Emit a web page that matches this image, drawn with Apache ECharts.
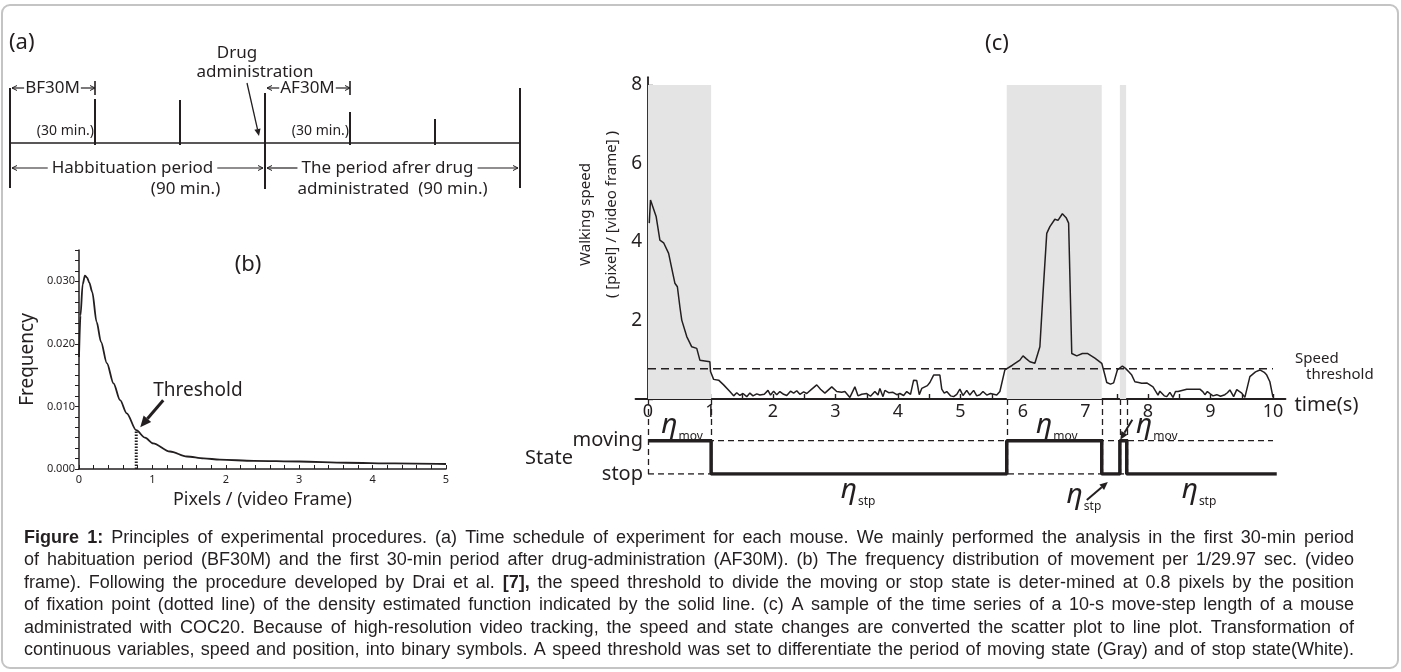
<!DOCTYPE html>
<html>
<head>
<meta charset="utf-8">
<script src="https://cdn.jsdelivr.net/npm/echarts@6/dist/echarts.min.js"></script>
<style>
html, body { margin: 0; padding: 0; background: #fff; }
#chart { width: 1401px; height: 672px; }
</style>
</head>
<body>
<div id="chart"></div>
<script>
// (a) time schedule, in minutes
const scheduleTicks = [0, 30, 60, 90, 120, 150, 180];
const drugTime = 90;
const windowSpans = [[0, 30], [90, 120]];
const windowLabels = ['BF30M', 'AF30M'];
const windowSubLabels = ['(30 min.)', '(30 min.)'];
const phaseSpans = [[0, 90], [90, 180]];
const phaseLabels = ['Habbituation period', 'The period afrer drug'];
const phaseSubLabels = ['(90 min.)', 'administrated  (90 min.)'];

// (b) frequency distribution
const pixelValues = [0, 0.02, 0.05, 0.08, 0.11, 0.14, 0.18, 0.24, 0.30, 0.38,
  0.47, 0.56, 0.65, 0.78, 0.90, 1.01, 1.24, 1.47, 1.70, 1.92,
  2.38, 3.00, 3.64, 4.30, 5.00];
const frequencyValues = [0.0179, 0.0245, 0.0295, 0.0309, 0.0306, 0.0298, 0.0283, 0.0235, 0.0203, 0.0169,
  0.0137, 0.0110, 0.0089, 0.0062, 0.0050, 0.0041, 0.0028, 0.0020, 0.0017, 0.0015,
  0.0013, 0.0012, 0.0010, 0.0009, 0.0008];
const thresholdPixel = 0.78;
const thresholdFrequency = 0.0062;
const pixelTicks = [0, 1, 2, 3, 4, 5];
const frequencyTicks = [0, 0.01, 0.02, 0.03];

// (c) walking speed of one mouse over 10 s
const speedTime = [0.02, 0.04, 0.07, 0.13, 0.19, 0.25, 0.33, 0.38, 0.43, 0.47,
  0.51, 0.54, 0.62, 0.70, 0.78, 0.83, 0.91, 0.99, 1.00, 1.05,
  1.13, 1.21, 1.31, 1.37, 1.42, 1.47, 1.52, 1.58, 1.63, 1.68,
  1.74, 1.79, 1.86, 1.92, 1.96, 2.01, 2.06, 2.11, 2.17, 2.22,
  2.28, 2.33, 2.38, 2.43, 2.49, 2.54, 2.62, 2.70, 2.76, 2.83,
  2.94, 3.02, 3.10, 3.15, 3.23, 3.31, 3.36, 3.42, 3.50, 3.56,
  3.63, 3.68, 3.71, 3.76, 3.79, 3.85, 3.92, 3.98, 4.03, 4.09,
  4.14, 4.20, 4.25, 4.30, 4.34, 4.38, 4.41, 4.47, 4.51, 4.57,
  4.67, 4.70, 4.74, 4.78, 4.84, 4.89, 4.94, 4.99, 5.04, 5.10,
  5.15, 5.21, 5.26, 5.31, 5.36, 5.42, 5.48, 5.53, 5.58, 5.63,
  5.71, 5.83, 5.95, 6.00, 6.05, 6.11, 6.19, 6.27, 6.32, 6.38,
  6.43, 6.51, 6.56, 6.59, 6.63, 6.65, 6.69, 6.73, 6.78, 6.86,
  6.95, 7.03, 7.15, 7.26, 7.31, 7.34, 7.40, 7.45, 7.51, 7.59,
  7.64, 7.70, 7.74, 7.79, 7.85, 7.90, 7.98, 8.08, 8.16, 8.19,
  8.22, 8.26, 8.30, 8.35, 8.40, 8.44, 8.48, 8.62, 8.83, 8.88,
  8.91, 8.95, 8.99, 9.04, 9.10, 9.16, 9.23, 9.27, 9.31, 9.37,
  9.42, 9.45, 9.50, 9.55, 9.63, 9.72, 9.79, 9.86, 9.90, 9.95,
  10.00];
const speedValue = [4.48, 5.07, 5.03, 4.65, 4.05, 3.98, 3.71, 3.33, 2.95, 2.86,
  2.35, 2.01, 1.59, 1.33, 1.29, 0.99, 0.97, 0.95, 0.70, 0.50,
  0.48, 0.36, 0.19, 0.08, 0.16, 0.09, 0.14, 0.06, 0.15, 0.08,
  0.13, 0.10, 0.12, 0.22, 0.10, 0.20, 0.11, 0.19, 0.12, 0.09,
  0.20, 0.15, 0.21, 0.12, 0.18, 0.14, 0.25, 0.36, 0.25, 0.15,
  0.31, 0.19, 0.17, 0.19, 0.04, 0.31, 0.08, 0.12, 0.14, 0.07,
  0.19, 0.10, 0.27, 0.06, 0.22, 0.16, 0.17, 0.11, 0.14, 0.09,
  0.19, 0.12, 0.48, 0.47, 0.11, 0.27, 0.22, 0.34, 0.42, 0.61,
  0.61, 0.25, 0.15, 0.19, 0.08, 0.06, 0.12, 0.25, 0.09, 0.22,
  0.10, 0.22, 0.08, 0.11, 0.19, 0.10, 0.14, 0.12, 0.10, 0.19,
  0.74, 0.86, 0.99, 1.10, 1.03, 0.95, 0.91, 1.33, 2.69, 4.22,
  4.39, 4.58, 4.55, 4.56, 4.72, 4.73, 4.62, 4.48, 1.16, 1.10,
  1.16, 1.16, 1.04, 0.91, 0.61, 0.42, 0.38, 0.41, 0.74, 0.84,
  0.78, 0.68, 0.61, 0.44, 0.42, 0.40, 0.41, 0.31, 0.10, 0.20,
  0.23, 0.08, 0.06, 0.17, 0.04, 0.19, 0.19, 0.25, 0.25, 0.18,
  0.11, 0.19, 0.14, 0.08, 0.11, 0.07, 0.11, 0.16, 0.23, 0.06,
  0.24, 0.23, 0.15, 0.04, 0.57, 0.69, 0.74, 0.68, 0.61, 0.44,
  0.04];
const speedThreshold = 0.77;
const timeTicks = [0, 1, 2, 3, 4, 5, 6, 7, 8, 9, 10];
const speedTicks = [2, 4, 6, 8];
const movingSpans = [[0, 1.01], [5.74, 7.26], [7.55, 7.65]];
const stateTime = [0, 1.01, 5.74, 7.26, 7.55, 7.66, 10.06];
const stateValue = [1, 0, 1, 0, 1, 0, 0];
const stateLabels = ['stop', 'moving'];

const captionLines = [
  'Figure 1: Principles of experimental procedures. (a) Time schedule of experiment for each mouse. We mainly performed the analysis in the first 30-min period',
  'of habituation period (BF30M) and the first 30-min period after drug-administration (AF30M). (b) The frequency distribution of movement per 1/29.97 sec. (video',
  'frame). Following the procedure developed by Drai et al. [7], the speed threshold to divide the moving or stop state is deter-mined at 0.8 pixels by the position',
  'of fixation point (dotted line) of the density estimated function indicated by the solid line. (c) A sample of the time series of a 10-s move-step length of a mouse',
  'administrated with COC20. Because of high-resolution video tracking, the speed and state changes are converted the scatter plot to line plot. Transformation of',
  'continuous variables, speed and position, into binary symbols. A speed threshold was set to differentiate the period of moving state (Gray) and of stop state(White).'
];

const INK = '#231f20';
const SANS = "'Noto Sans', sans-serif";
const CAPFONT = "'Liberation Sans', Arial, sans-serif";

// layout of the schedule drawing (pixel rows)
const A = {
  tickTop: [88, 99, 100, 93, 112, 119, 88],
  tickBottom: [188, 145, 145, 189, 145, 145, 188],
  baseY: 143,
  windowY: 88,
  windowSubY: 131,
  phaseY: 168,
  phaseSubY: 189,
  phaseDx: [-5, -5],
  phaseSubAlign: ['right', 'center']
};

const measureCtx = document.createElement('canvas').getContext('2d');
function textWidth(s, font) {
  measureCtx.font = font;
  return measureCtx.measureText(s).width;
}
function steps(from, to, n) {
  const out = [];
  for (let i = 0; i <= n; i++) out.push(from + (to - from) * i / n);
  return out;
}
function txt(text, x, y, font, align, extra) {
  return Object.assign({
    type: 'text', x: x, y: y, silent: true,
    style: { text: text, font: font, fill: INK, align: align || 'left', verticalAlign: 'middle' }
  }, extra || {});
}
function arrow(from, to, width, head) {
  const dx = to[0] - from[0], dy = to[1] - from[1];
  const len = Math.hypot(dx, dy);
  const ux = dx / len, uy = dy / len;
  const bx = to[0] - ux * head, by = to[1] - uy * head;
  const hw = head * 0.45;
  return [
    { type: 'line', silent: true, shape: { x1: from[0], y1: from[1], x2: bx, y2: by }, style: { stroke: INK, lineWidth: width } },
    { type: 'polygon', silent: true, shape: { points: [[to[0], to[1]], [bx - uy * hw, by + ux * hw], [bx + uy * hw, by - ux * hw]] }, style: { fill: INK } }
  ];
}
function chevron(x, y, dir, size) {
  return {
    type: 'polyline',
    shape: { points: [[x - dir * size, y - size * 0.5], [x, y], [x - dir * size, y + size * 0.5]] },
    style: { stroke: INK, fill: null, lineWidth: 1 }
  };
}
function hline(x1, x2, y, w) {
  return { type: 'line', shape: { x1: x1, y1: y, x2: x2, y2: y }, style: { stroke: INK, lineWidth: w || 1.2 } };
}

// (a) renderers
function renderTick(params, api) {
  const i = params.dataIndex;
  const x = api.coord([api.value(0), 0])[0];
  return { type: 'line', shape: { x1: x, y1: A.tickTop[i], x2: x, y2: A.tickBottom[i] }, style: { stroke: INK, lineWidth: 2 } };
}
function renderBaseline(params, api) {
  const x1 = api.coord([api.value(0), 0])[0];
  const x2 = api.coord([api.value(2), 0])[0];
  return hline(x1, x2, A.baseY, 1.6);
}
function renderWindow(params, api) {
  const i = api.value(3);
  const x1 = api.coord([api.value(0), 0])[0];
  const x2 = api.coord([api.value(2), 0])[0];
  const font = '17px ' + SANS;
  const w = textWidth(windowLabels[i], font);
  const cx = (x1 + x2) / 2;
  const y = A.windowY;
  return {
    type: 'group',
    children: [
      hline(x1 + 2, cx - w / 2 - 1, y),
      chevron(x1 + 2, y, -1, 5),
      hline(cx + w / 2 + 1, x2, y),
      chevron(x2, y, 1, 5),
      { type: 'line', shape: { x1: x2, y1: y - 7, x2: x2, y2: y + 7 }, style: { stroke: INK, lineWidth: 1.6 } },
      { type: 'text', style: { text: windowLabels[i], x: cx, y: y, font: font, fill: INK, align: 'center', verticalAlign: 'middle' } },
      { type: 'text', style: { text: windowSubLabels[i], x: x2 - 1, y: A.windowSubY, font: '14px ' + SANS, fill: INK, align: 'right', verticalAlign: 'middle' } }
    ]
  };
}
function renderPhase(params, api) {
  const i = api.value(3);
  const x1 = api.coord([api.value(0), 0])[0];
  const x2 = api.coord([api.value(2), 0])[0];
  const font = '17px ' + SANS;
  const w = textWidth(phaseLabels[i], font);
  const cx = (x1 + x2) / 2 + A.phaseDx[i];
  const y = A.phaseY;
  const subAlign = A.phaseSubAlign[i];
  const subX = subAlign === 'right' ? cx + w / 2 + 7 : cx + 5;
  return {
    type: 'group',
    children: [
      hline(x1 + 2, cx - w / 2 - 4, y),
      chevron(x1 + 2, y, -1, 5),
      hline(cx + w / 2 + 4, x2 - 2, y),
      chevron(x2 - 2, y, 1, 5),
      { type: 'text', style: { text: phaseLabels[i], x: cx, y: y, font: font, fill: INK, align: 'center', verticalAlign: 'middle' } },
      { type: 'text', style: { text: phaseSubLabels[i], x: subX, y: A.phaseSubY, font: font, fill: INK, align: subAlign, verticalAlign: 'middle' } }
    ]
  };
}
function renderDrug(params, api) {
  const x = api.coord([api.value(0), 0])[0];
  const font = '17px ' + SANS;
  return {
    type: 'group',
    children: [
      { type: 'text', style: { text: 'Drug', x: x - 28, y: 53, font: font, fill: INK, align: 'center', verticalAlign: 'middle' } },
      { type: 'text', style: { text: 'administration', x: x - 10, y: 72, font: font, fill: INK, align: 'center', verticalAlign: 'middle' } }
    ].concat(arrow([x - 18, 83], [x - 6, 136], 1.3, 7))
  };
}

const timeHalfSteps = steps(0, 10, 20);
const speedHalfSteps = steps(0, 8, 16);
// the time axis runs a little past 0 and 10; the value axes sit on t = 0
const axisShift = -12.5;

const option = {
  animation: false,
  backgroundColor: '#fff',
  textStyle: { fontFamily: 'Noto Sans', color: INK },
  grid: [
    { left: 10, width: 510, top: 80, height: 120 },
    { left: 79, width: 367, top: 250, height: 219 },
    { left: 635.5, width: 650, top: 77.15, height: 321.85 },
    { left: 635.5, width: 650, top: 399, height: 75 }
  ],
  xAxis: [
    { gridIndex: 0, type: 'value', min: 0, max: 180, show: false },
    {
      gridIndex: 1, type: 'value', min: 0, max: 5,
      axisLine: { lineStyle: { color: INK, width: 1.5 } },
      axisTick: { inside: true, length: 4, customValues: steps(0, 5, 25), lineStyle: { color: INK } },
      axisLabel: { customValues: pixelTicks, fontSize: 11, color: INK, margin: 5 },
      splitLine: { show: false },
      name: 'Pixels / (video Frame)', nameLocation: 'middle', nameGap: 22,
      nameTextStyle: { fontSize: 18, color: INK }
    },
    {
      gridIndex: 2, type: 'value', min: -0.2, max: 10.2,
      axisLine: { onZero: false, lineStyle: { color: INK, width: 1.8 } },
      axisTick: { inside: true, length: 5, customValues: timeHalfSteps, lineStyle: { color: INK, width: 1.4 } },
      axisLabel: { customValues: timeTicks, fontSize: 18, color: INK, margin: 4 },
      splitLine: { show: false }
    },
    { gridIndex: 3, type: 'value', min: -0.2, max: 10.2, show: false }
  ],
  yAxis: [
    { gridIndex: 0, type: 'value', min: 0, max: 1, show: false },
    {
      gridIndex: 1, type: 'value', min: 0, max: 0.035,
      axisLine: { show: true, lineStyle: { color: INK, width: 1.5 } },
      axisTick: { show: true, length: 4, customValues: steps(0, 0.035, 21), lineStyle: { color: INK } },
      axisLabel: { customValues: frequencyTicks, formatter: v => v.toFixed(3), fontSize: 11, color: INK, margin: 4 },
      splitLine: { show: false },
      name: 'Frequency', nameLocation: 'middle', nameRotate: 90, nameGap: 42,
      nameTextStyle: { fontSize: 19, color: INK }
    },
    {
      gridIndex: 2, type: 'value', min: 0, max: 8.2, offset: axisShift,
      axisLine: { show: true, onZero: false, lineStyle: { color: INK, width: 1.8 } },
      axisTick: { show: true, inside: true, length: 5, customValues: speedHalfSteps, lineStyle: { color: INK, width: 1.4 } },
      axisLabel: { customValues: speedTicks, fontSize: 19, color: INK, margin: 6 },
      splitLine: { show: false }
    },
    {
      gridIndex: 3, type: 'value', min: 0, max: 2.25, offset: axisShift,
      axisLine: { show: false, onZero: false },
      axisTick: { show: false },
      axisLabel: { customValues: [0, 1], formatter: v => stateLabels[Math.round(v)], fontSize: 20, color: INK, margin: 5 },
      splitLine: { show: false }
    }
  ],
  series: [
    // (a)
    { type: 'custom', xAxisIndex: 0, yAxisIndex: 0, silent: true, renderItem: renderBaseline,
      data: [[scheduleTicks[0], 0, scheduleTicks[scheduleTicks.length - 1]]] },
    { type: 'custom', xAxisIndex: 0, yAxisIndex: 0, silent: true, renderItem: renderTick,
      data: scheduleTicks.map(t => [t, 0]) },
    { type: 'custom', xAxisIndex: 0, yAxisIndex: 0, silent: true, renderItem: renderWindow,
      data: windowSpans.map((s, i) => [s[0], 0, s[1], i]) },
    { type: 'custom', xAxisIndex: 0, yAxisIndex: 0, silent: true, renderItem: renderPhase,
      data: phaseSpans.map((s, i) => [s[0], 0, s[1], i]) },
    { type: 'custom', xAxisIndex: 0, yAxisIndex: 0, silent: true, renderItem: renderDrug,
      data: [[drugTime, 0]] },
    // (b)
    {
      type: 'line', xAxisIndex: 1, yAxisIndex: 1, silent: true, showSymbol: false,
      smooth: 0.3, smoothMonotone: 'x',
      lineStyle: { color: INK, width: 1.8 },
      data: pixelValues.map((p, i) => [p, frequencyValues[i]])
    },
    {
      type: 'line', xAxisIndex: 1, yAxisIndex: 1, silent: true, showSymbol: false,
      lineStyle: { color: INK, width: 3, type: [1.5, 1.5] },
      data: [[thresholdPixel, 0], [thresholdPixel, thresholdFrequency]]
    },
    // (c) speed
    {
      type: 'line', xAxisIndex: 2, yAxisIndex: 2, silent: true, showSymbol: false,
      lineStyle: { color: INK, width: 1.5 },
      data: speedTime.map((t, i) => [t, speedValue[i]]),
      markArea: {
        silent: true,
        itemStyle: { color: '#e4e4e4' },
        data: movingSpans.map(s => [{ xAxis: s[0], yAxis: 0 }, { xAxis: s[1], yAxis: speedTicks[speedTicks.length - 1] }])
      },
      z: 3
    },
    {
      type: 'line', xAxisIndex: 2, yAxisIndex: 2, silent: true, showSymbol: false,
      lineStyle: { color: INK, width: 1.5, type: [8, 5] },
      data: [[timeTicks[0], speedThreshold], [timeTicks[timeTicks.length - 1], speedThreshold]]
    },
    // (c) state guides
    {
      type: 'line', xAxisIndex: 3, yAxisIndex: 3, silent: true, showSymbol: false,
      lineStyle: { color: INK, width: 1.3, type: [6, 4] },
      data: [[timeTicks[0], 1], [timeTicks[timeTicks.length - 1], 1]],
      markLine: {
        silent: true, symbol: 'none', label: { show: false },
        lineStyle: { color: INK, width: 1.3, type: [6, 4] },
        data: stateTime.slice(0, -1).map(t => [{ coord: [t, 2.25] }, { coord: [t, 0] }])
      }
    },
    {
      type: 'line', xAxisIndex: 3, yAxisIndex: 3, silent: true, showSymbol: false,
      lineStyle: { color: INK, width: 1.3, type: [6, 4] },
      data: [[timeTicks[0], 0], [timeTicks[timeTicks.length - 1], 0]]
    },
    {
      type: 'line', xAxisIndex: 3, yAxisIndex: 3, silent: true, showSymbol: false,
      step: 'end',
      lineStyle: { color: INK, width: 3.5 },
      data: stateTime.map((t, i) => [t, stateValue[i]]),
      z: 5
    }
  ]
};

const chart = echarts.init(document.getElementById('chart'), null, { renderer: 'canvas' });
chart.setOption(option);

const px = (g, p) => chart.convertToPixel({ gridIndex: g }, p);
const graphics = [];

// frame
graphics.push({
  type: 'rect', silent: true, z: -10,
  shape: { x: 2, y: 5, width: 1396, height: 663, r: 8 },
  style: { fill: null, stroke: '#c4c4c4', lineWidth: 2 }
});

// panel letters
graphics.push(txt('(a)', 9, 43, '22px ' + SANS));
graphics.push(txt('(b)', 248, 265, '22px ' + SANS, 'center'));
graphics.push(txt('(c)', 997, 44, '22px ' + SANS, 'center'));

// (b) threshold callout
const thr = px(1, [thresholdPixel, thresholdFrequency]);
arrow([thr[0] + 27, thr[1] - 30], [thr[0] + 4, thr[1] - 3], 3, 11).forEach(g => graphics.push(g));
graphics.push(txt('Threshold', thr[0] + 17, thr[1] - 40, '19px ' + SANS));

// (c) speed axis name
const origin = px(2, [0, 0]);
const nameY = px(2, [0, 4.7])[1];
graphics.push(txt('Walking speed', origin[0] - 62, nameY, '15px ' + SANS, 'center', { rotation: Math.PI / 2 }));
graphics.push(txt('( [pixel] / [video frame] )', origin[0] - 36, nameY, '15px ' + SANS, 'center', { rotation: Math.PI / 2 }));

// (c) threshold and time labels
const thrEnd = px(2, [timeTicks[timeTicks.length - 1], speedThreshold]);
graphics.push(txt('Speed', thrEnd[0] + 22, thrEnd[1] - 10, '15px ' + SANS));
graphics.push(txt('threshold', thrEnd[0] + 33, thrEnd[1] + 6, '15px ' + SANS));
const axisEnd = px(2, [10.2, 0]);
graphics.push(txt('time(s)', axisEnd[0] + 9, axisEnd[1] + 6, '20px ' + SANS));

// state label
const movingY = px(3, [0, 1])[1];
const stopY = px(3, [0, 0])[1];
graphics.push(txt('State', 573, (movingY + stopY) / 2 + 1, '20px ' + SANS, 'right'));

// eta labels for each state period
function eta(xRight, yMid, sub) {
  graphics.push(txt('η', xRight, yMid, 'italic 28px ' + SANS, 'right'));
  graphics.push(txt(sub, xRight + 1, yMid + 12, '12px ' + SANS, 'left'));
}
for (let i = 0; i < stateTime.length - 1; i++) {
  const t0 = stateTime[i], t1 = stateTime[i + 1];
  const moving = stateValue[i] === 1;
  const cx = px(3, [(t0 + Math.min(t1, timeTicks[timeTicks.length - 1])) / 2, 0])[0];
  const sub = moving ? 'mov' : 'stp';
  if (t1 - t0 > 0.5) {
    eta(cx - 2, moving ? movingY - 16 : stopY + 16, sub);
  } else if (moving) {
    const tip = [cx - 3, movingY - 1];
    arrow([tip[0] + 12, tip[1] - 20], tip, 2, 8).forEach(g => graphics.push(g));
    eta(tip[0] + 32, movingY - 16, sub);
  } else {
    const tip = [cx - 3, stopY + 8];
    arrow([tip[0] - 21, tip[1] + 18], tip, 2, 8).forEach(g => graphics.push(g));
    eta(tip[0] - 25, stopY + 21, sub);
  }
}

// caption, justified between the frame margins
const capLeft = 24, capRight = 1354, capTop = 538, capStep = 22.4;
function isBold(lineIdx, wordIdx, word) {
  return (lineIdx === 0 && wordIdx < 2) || word === '[7],';
}
function capFont(bold, size) {
  return (bold ? 'bold ' : '') + size + 'px ' + CAPFONT;
}
let widest = 0;
captionLines.forEach((line, li) => {
  const words = line.split(' ');
  let w = 0;
  words.forEach((wd, wi) => { w += textWidth(wd, capFont(isBold(li, wi, wd), 16)); });
  w += (words.length - 1) * textWidth(' ', capFont(false, 16));
  widest = Math.max(widest, w);
});
const capSize = Math.min(18, 16 * (capRight - capLeft) / widest * 0.995);
captionLines.forEach((line, li) => {
  const words = line.split(' ');
  const widths = words.map((wd, wi) => textWidth(wd, capFont(isBold(li, wi, wd), capSize)));
  const total = widths.reduce((a, b) => a + b, 0);
  const gap = (capRight - capLeft - total) / (words.length - 1);
  let x = capLeft;
  const y = capTop + li * capStep;
  words.forEach((wd, wi) => {
    graphics.push(txt(wd, x, y, capFont(isBold(li, wi, wd), capSize), 'left'));
    x += widths[wi] + gap;
  });
});

chart.setOption({ graphic: graphics });
</script>
</body>
</html>
